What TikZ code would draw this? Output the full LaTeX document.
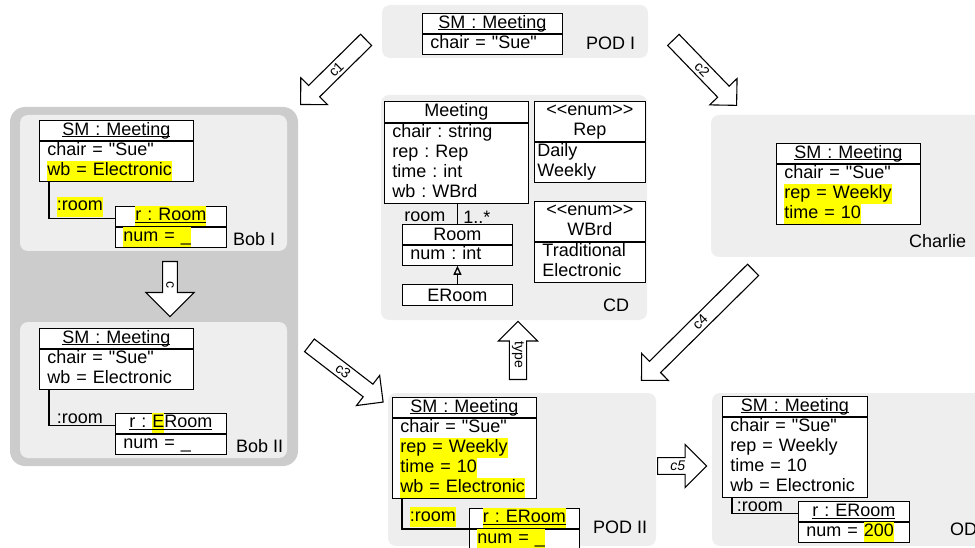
\documentclass[tikz,border=0pt]{standalone}
\usepackage{fontspec}
\newfontfamily\umlfont{Liberation Sans}
\usetikzlibrary{positioning,shapes.arrows,arrows.meta}

\definecolor{panelgray}{HTML}{EEEEEE}
\definecolor{bobgray}{HTML}{CCCCCC}
\definecolor{hlyellow}{HTML}{FFFF00}

\frenchspacing
\newcommand\umlsize{\fontsize{18}{20}\selectfont}
\newcommand\hl[1]{{\setlength\fboxsep{0pt}\colorbox{hlyellow}{\strut #1}}}
\newcommand\ulx[1]{\begingroup\setbox0\hbox{#1}\copy0\llap{\rule[-2pt]{\wd0}{0.8pt}}\endgroup}

\tikzset{
  panel/.style={fill=panelgray, rounded corners=8pt},
  objhead/.style={draw, fill=white, line width=0.9pt, text width=#1, inner xsep=8pt, inner ysep=0pt, minimum height=20pt, align=center, anchor=north west},
  objbody/.style={draw, fill=white, line width=0.9pt, text width=#1, inner xsep=8pt, inner ysep=0pt, align=left},
  link/.style={line width=1.6pt},
  linklbl/.style={anchor=south west, inner xsep=7pt, inner ysep=1pt},
  podlbl/.style={anchor=base west, inner sep=0pt},
  blockarrow/.style={single arrow, draw, fill=white, line width=1.1pt, inner sep=1pt, anchor=tail, font=\umlfont\fontsize{14}{16}\selectfont},
}

\begin{document}
\begin{tikzpicture}[x=1pt, y=-1pt, font=\umlfont\umlsize]
  \useasboundingbox (0,0) rectangle (975,548);
  \clip (0,0) rectangle (975,548);

  % POD I
  \fill[panel] (382,5) rectangle (648,58);
  \node[objhead=124pt] (pod1-mh) at (422,13) {\ulx{SM : Meeting}};
  \node[objbody=124pt, below=0pt of pod1-mh] (pod1-mb) {\strut chair = "Sue"};
  \node[podlbl] (pod1-lbl) at (586,50) {POD I};

  % Bob
  \fill[bobgray, rounded corners=15pt] (10,107) rectangle (298,466);
  \fill[panel] (20,115) rectangle (287,251);
  \fill[panel] (20,322) rectangle (287,458);

  \node[objhead=138pt] (bob1-mh) at (39,120) {\ulx{SM : Meeting}};
  \node[objbody=138pt, below=0pt of bob1-mh] (bob1-mb) {\strut chair = "Sue"\\\hl{wb = Electronic}};
  \node[objhead=95pt] (bob1-rh) at (115,206) {\ulx{\hl{r : Room}}};
  \node[objbody=95pt, below=0pt of bob1-rh] (bob1-rb) {\hl{num = \_}};
  \draw[link] ([xshift=10pt]bob1-mb.south west) |- node[linklbl, pos=0.5] {\hl{:room}} ([yshift=-2pt]bob1-rh.west);
  \node[podlbl] (bob1-lbl) at (233,246) {Bob I};

  \node[objhead=138pt] (bob2-mh) at (39,328) {\ulx{SM : Meeting}};
  \node[objbody=138pt, below=0pt of bob2-mh] (bob2-mb) {\strut chair = "Sue"\\\strut wb = Electronic};
  \node[objhead=95pt] (bob2-rh) at (115,413) {\ulx{r : \hl{E}Room}};
  \node[objbody=95pt, below=0pt of bob2-rh] (bob2-rb) {\strut num = \_};
  \draw[link] ([xshift=10pt]bob2-mb.south west) |- node[linklbl, pos=0.5] {:room} ([yshift=-2pt]bob2-rh.west);
  \node[podlbl] (bob2-lbl) at (236,452) {Bob II};

  % CD
  \fill[panel] (381,95) rectangle (647,320);
  \node[objhead=128pt, minimum height=21pt] (cd-meet-h) at (384,101) {Meeting};
  \node[objbody=128pt, below=0pt of cd-meet-h] (cd-meet-b) {\strut chair : string\\\strut rep : Rep\\\strut time : int\\\strut wb : WBrd};
  \node[objhead=95pt] (cd-rep-h) at (534,101) {\strut<<enum>>\\\strut Rep};
  \node[objbody=105pt, inner xsep=3pt, below=0pt of cd-rep-h] (cd-rep-b) {\strut Daily\\\strut Weekly};
  \node[objhead=95pt] (cd-wbrd-h) at (534,201) {\strut<<enum>>\\\strut WBrd};
  \node[objbody=95pt, below=0pt of cd-wbrd-h] (cd-wbrd-b) {\strut Traditional\\\strut Electronic};
  \node[objhead=94pt] (cd-room-h) at (402,224) {Room};
  \node[objbody=94pt, below=0pt of cd-room-h] (cd-room-b) {\strut num : int};
  \node[objhead=94pt, minimum height=21pt] (cd-eroom) at (402,284) {ERoom};
  \draw[line width=1.3pt] (cd-room-h.north |- cd-meet-b.south) -- node[left, xshift=-8pt, yshift=-3pt] {room} node[right, xshift=2pt, yshift=-3pt] {1..*} (cd-room-h.north);
  \draw[line width=1.3pt, -{Triangle[open, length=9pt, width=8pt]}] (cd-eroom) -- (cd-room-b);
  \node[podlbl] (cd-lbl) at (603,311) {CD};

  % Charlie
  \fill[panel] (711,115) rectangle (990,257);
  \node[objhead=128pt] (ch-mh) at (776,143) {\ulx{SM : Meeting}};
  \node[objbody=128pt, below=0pt of ch-mh] (ch-mb) {\strut chair = "Sue"\\\hl{rep = Weekly}\\\hl{time = 10}};
  \node[podlbl] (ch-lbl) at (909,248) {Charlie};

  % POD II
  \fill[panel] (388,393) rectangle (656,546);
  \node[objhead=128pt] (pod2-mh) at (392,397) {\ulx{SM : Meeting}};
  \node[objbody=128pt, below=0pt of pod2-mh] (pod2-mb) {\strut chair = "Sue"\\\hl{rep = Weekly}\\\hl{time = 10}\\\hl{wb = Electronic}};
  \node[objhead=94pt] (pod2-rh) at (469,508) {\ulx{\hl{r : ERoom}}};
  \node[objbody=94pt, below=0pt of pod2-rh] (pod2-rb) {\hl{num = \_}};
  \draw[link] ([xshift=10pt]pod2-mb.south west) |- node[linklbl, pos=0.5] {\hl{:room}} (pod2-rh.south west);
  \node[podlbl] (pod2-lbl) at (593,533) {POD II};

  % OD
  \fill[panel] (712,393) rectangle (990,546);
  \node[objhead=129pt] (od-mh) at (722,396) {\ulx{SM : Meeting}};
  \node[objbody=129pt, below=0pt of od-mh] (od-mb) {\strut chair = "Sue"\\\strut rep = Weekly\\\strut time = 10\\\strut wb = Electronic};
  \node[objhead=95pt] (od-rh) at (798,501) {\ulx{r : ERoom}};
  \node[objbody=95pt, below=0pt of od-rh] (od-rb) {\strut num = \hl{200}};
  \draw[link] ([xshift=10pt]od-mb.south west) |- node[linklbl, pos=0.5, inner xsep=4pt] {:room} ([yshift=-2pt]od-rh.west);
  \node[podlbl] (od-lbl) at (950,535) {OD};

  % change arrows
  \node[blockarrow, minimum height=92pt, minimum width=38pt, single arrow head extend=9pt, rotate=44.6, shape border rotate=180] (c1) at (366.5,39.5) {c1};
  \node[blockarrow, minimum height=91pt, minimum width=38pt, single arrow head extend=9pt, rotate=-46] (c2) at (673,39.5) {c2};
  \node[blockarrow, minimum height=93pt, minimum width=38pt, single arrow head extend=9pt, rotate=-37.6] (c3) at (309,345) {c3};
  \node[blockarrow, minimum height=157pt, minimum width=38pt, single arrow head extend=9pt, rotate=44.7, shape border rotate=180] (c4) at (753.5,269.5) {c4};
  \node[blockarrow, minimum height=55pt, minimum width=48pt, single arrow head extend=12pt, rotate=-90] (c) at (170,261) {c};
  \node[blockarrow, minimum height=58pt, minimum width=39pt, single arrow head extend=9.5pt, rotate=-90, shape border rotate=180] (type) at (518,380) {type};
  \node[blockarrow, minimum height=49pt, minimum width=43pt, single arrow head extend=10pt] (c5) at (657,466) {\itshape c5};
\end{tikzpicture}
\end{document}
